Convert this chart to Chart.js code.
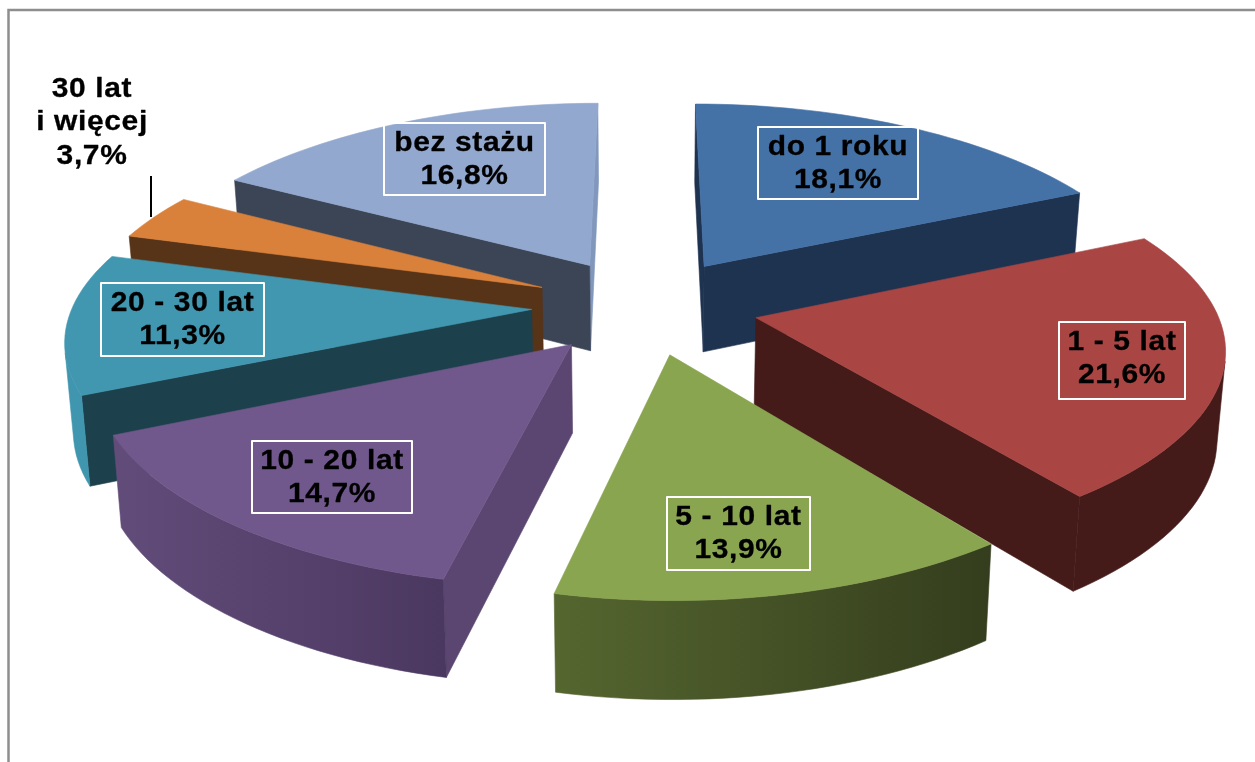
<!DOCTYPE html>
<html lang="pl">
<head>
<meta charset="utf-8">
<title>Staż pracy</title>
<script src="https://cdn.jsdelivr.net/npm/chart.js@4"></script>
<style>
html,body{margin:0;padding:0;background:#fff;overflow:hidden}
canvas{display:block}
</style>
</head>
<body>
<canvas id="c" width="1255" height="762"></canvas>
<script>
const categories = ["do 1 roku","1 - 5 lat","5 - 10 lat","10 - 20 lat","20 - 30 lat","30 lat\ni więcej","bez stażu"];
const shares = [18.1,21.6,13.9,14.7,11.3,3.7,16.8];
const shareLabels = ["18,1%","21,6%","13,9%","14,7%","11,3%","3,7%","16,8%"];

const topColors = ["#4472a7","#a94543","#8aa550","#70588c","#4197b0","#d9813b","#92a8cf"];
const radialColors = ["#1e3350","#451b1a","#3a431f","#5a4670","#1c404c","#573318","#3c4556"];
const radialEndColors = ["#1e3350","#451b1a","#3a431f","#5a4670","#1c404c","#573318","#8297bc"];
const rimStart = ["#1e3350","#451b1a","#343d1d","#4b3860","#4096ae","#573318","#3c4556"];
const rimEnd = ["#1e3350","#451b1a","#55662f","#624c7a","#4096ae","#573318","#3c4556"];
const paintOrder = [6,0,5,4,3,1,2];

const explode = 115;
const view = {cx:645, cy:306, k:0.42, sx0:0.985, sxSlope:0.0003, fy:3300, depth:87, depthGain:0.65, base:0.985, radius:466};
const labelBoxes = [[758,127,160,72],[1059,322,126,77],[667,497,143,73],[252,441,160,72],[101,283,163,73],null,[384,123,161,72]];
const textStretch = 1.07;

function project(u,v,low){
  const sx=view.sx0-view.sxSlope*v, sy=view.fy/(view.fy+v);
  let x=view.cx+u*sx, y=view.cy-view.k*v*sy;
  if(low){ y+=view.depth*(1+(sy-1)*view.depthGain); x=view.cx+(x-view.cx)*view.base; }
  return [x,y];
}
function sliceGround(el){
  const scale=view.radius/el.outerRadius;
  const mid=(el.startAngle+el.endAngle)/2, off=el.options.offset;
  const ou=Math.cos(mid)*off, ov=-Math.sin(mid)*off;
  const pts=[[ou,ov]];
  const n=Math.max(4,Math.ceil((el.endAngle-el.startAngle)/0.03));
  for(let i=0;i<=n;i++){
    const a=el.startAngle+(el.endAngle-el.startAngle)*i/n;
    pts.push([ou+Math.cos(a)*el.outerRadius*scale, ov-Math.sin(a)*el.outerRadius*scale]);
  }
  return pts;
}
function fillPoly(ctx,poly,color){
  ctx.beginPath();
  poly.forEach((p,i)=>i?ctx.lineTo(p[0],p[1]):ctx.moveTo(p[0],p[1]));
  ctx.closePath();
  ctx.fillStyle=color; ctx.strokeStyle=color; ctx.lineWidth=0.6;
  ctx.fill(); ctx.stroke();
}
function area(q){let s=0;q.forEach((p,i)=>{const r=q[(i+1)%q.length];s+=p[0]*r[1]-r[0]*p[1];});return s;}
function label(ctx,text,x,y){
  ctx.save();
  ctx.translate(x,y);
  ctx.scale(textStretch,1);
  ctx.strokeText(text,0,0);
  ctx.fillText(text,0,0);
  ctx.restore();
}

const solidPie = {
  id:'solidPie',
  beforeDatasetDraw(chart){
    const ctx=chart.ctx, arcs=chart.getDatasetMeta(0).data;
    ctx.save();
    paintOrder.forEach(i=>{
      const g=sliceGround(arcs[i]);
      const top=g.map(p=>project(p[0],p[1],false));
      const low=g.map(p=>project(p[0],p[1],true));
      const n=g.length;
      [[n-1,radialEndColors[i]],[0,radialColors[i]]].forEach(([j,col])=>{
        const m=(j+1)%n, q=[top[j],top[m],low[m],low[j]];
        if(area(q)<0) fillPoly(ctx,q,col);
      });
      let first=-1,last=-1;
      for(let j=1;j<n-1;j++){
        const q=[top[j],top[j+1],low[j+1],low[j]];
        if(area(q)<0){ if(first<0) first=j; last=j; }
      }
      if(first>=0){
        const band=[];
        for(let j=first;j<=last+1;j++) band.push(top[j]);
        for(let j=last+1;j>=first;j--) band.push(low[j]);
        const grad=ctx.createLinearGradient(top[first][0],0,top[last+1][0],0);
        grad.addColorStop(0,rimStart[i]); grad.addColorStop(1,rimEnd[i]);
        fillPoly(ctx,band,grad);
      }
      fillPoly(ctx,top,topColors[i]);
    });
    ctx.restore();
    return false;
  },
  afterDraw(chart){
    const ctx=chart.ctx;
    ctx.save();
    ctx.strokeStyle='#8e8e8e'; ctx.lineWidth=2.5;
    ctx.beginPath(); ctx.moveTo(8.5,762); ctx.lineTo(8.5,10); ctx.lineTo(1255,10); ctx.stroke();
    ctx.strokeStyle='#000'; ctx.lineWidth=2;
    ctx.beginPath(); ctx.moveTo(151,176); ctx.lineTo(151,217); ctx.stroke();
    ctx.font='bold 28px "Liberation Sans", Arial, sans-serif';
    ctx.letterSpacing='0.6px';
    ctx.textAlign='center'; ctx.textBaseline='middle'; ctx.fillStyle='#000';
    categories.forEach((name,i)=>{
      const b=labelBoxes[i];
      ctx.lineJoin='round';
      if(b){
        ctx.strokeStyle='#fff'; ctx.lineWidth=2;
        ctx.strokeRect(b[0],b[1],b[2],b[3]);
        ctx.strokeStyle='#000'; ctx.lineWidth=0.3;
        label(ctx,name,b[0]+b[2]/2,b[1]+20);
        label(ctx,shareLabels[i],b[0]+b[2]/2,b[1]+53);
      }else{
        ctx.strokeStyle='#000'; ctx.lineWidth=0.3;
        const lines=name.split('\n').concat(shareLabels[i]);
        lines.forEach((t,l)=>label(ctx,t,92,89+l*33.5));
      }
    });
    ctx.restore();
  }
};

new Chart(document.getElementById('c'),{
  type:'pie',
  data:{labels:categories,datasets:[{data:shares,backgroundColor:topColors,offset:explode,borderWidth:0}]},
  options:{
    responsive:false,animation:false,rotation:0,
    layout:{padding:0},
    plugins:{legend:{display:false},tooltip:{enabled:false}}
  },
  plugins:[solidPie]
});
</script>
</body>
</html>
